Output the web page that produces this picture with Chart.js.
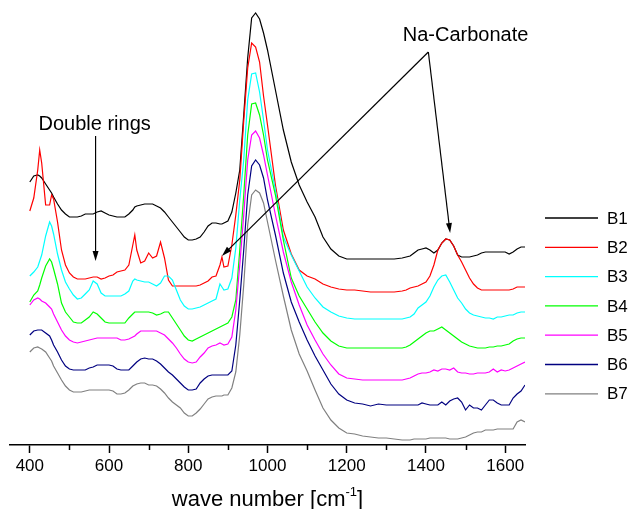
<!DOCTYPE html>
<html>
<head>
<meta charset="utf-8">
<title>IR spectra B1-B7</title>
<script src="https://cdn.jsdelivr.net/npm/chart.js@4.4.1/dist/chart.umd.min.js"></script>
<style>
  html, body { margin: 0; padding: 0; background: #fff; }
  #wrap { position: relative; width: 630px; height: 509px; }
</style>
</head>
<body>
<div id="wrap"><canvas id="spectra"></canvas></div>
<script>
// ----------------------------------------
// Spectra data (wave number in cm-1, offset absorbance in a.u.)
// ----------------------------------------
const waveNumbers = [
  400, 410, 420, 425, 430, 440, 450, 455, 460, 470,
  480, 490, 500, 510, 520, 530, 540, 550, 560, 570,
  580, 590, 600, 610, 620, 630, 640, 650, 660, 665,
  670, 680, 690, 700, 710, 720, 730, 740, 750, 760,
  770, 780, 790, 800, 810, 820, 830, 840, 850, 860,
  870, 880, 885, 890, 900, 910, 920, 930, 940, 950,
  960, 970, 980, 990, 1000, 1020, 1040, 1060, 1080, 1100,
  1120, 1140, 1160, 1180, 1200, 1220, 1240, 1260, 1280, 1300,
  1320, 1340, 1350, 1360, 1370, 1380, 1390, 1400, 1410, 1420,
  1430, 1440, 1450, 1460, 1470, 1480, 1490, 1500, 1510, 1520,
  1530, 1540, 1550, 1560, 1570, 1580, 1590, 1600, 1610, 1620,
  1630, 1640, 1650
];

const b1 = [
  263, 269, 270, 269, 267, 261, 255, 252, 248, 241,
  235, 231, 228, 228, 228, 229, 231, 231, 231, 233,
  234, 232, 230, 229, 228, 228, 228, 231, 235, 238,
  239, 240, 241, 241, 241, 239, 237, 233, 228, 223,
  218, 213, 208, 205, 205, 206, 208, 213, 219, 222,
  222, 221, 221, 222, 224, 233, 252, 275, 330, 387,
  427, 432, 426, 412, 395, 355, 315, 283, 260, 243,
  228, 208, 196, 189, 186, 186, 186, 186, 186, 186,
  186, 187, 188, 189, 192, 195, 196, 197, 195, 192,
  195, 202, 206, 205, 199, 190, 188, 188, 188, 189,
  190, 192, 193, 193, 193, 193, 193, 193, 191, 193,
  196, 198, 198
];
const b2 = [
  234, 247, 275, 295, 282, 240, 240, 250, 246, 223,
  195, 180, 172, 168, 166, 166, 166, 167, 168, 168,
  166, 167, 169, 170, 173, 174, 175, 180, 200, 210,
  195, 182, 184, 192, 187, 189, 203, 187, 165, 159,
  159, 159, 159, 159, 159, 159, 160, 162, 164, 168,
  169, 180, 188, 178, 179, 200, 230, 265, 324, 377,
  402, 398, 383, 349, 320, 260, 215, 191, 175, 169,
  166, 161, 158, 156, 155, 155, 154, 153, 153, 153,
  153, 154, 155, 157, 158, 159, 161, 163, 169, 180,
  195, 202, 206, 205, 199, 190, 183, 175, 167, 161,
  157, 155, 155, 155, 155, 155, 155, 155, 155, 156,
  158, 158, 158
];
const b3 = [
  169, 173, 178, 184, 190, 209, 223, 219, 211, 191,
  175, 163, 156, 150, 146, 147, 151, 155, 164, 161,
  152, 149, 149, 149, 149, 149, 151, 154, 164, 166,
  165, 164, 163, 163, 161, 159, 162, 169, 169, 165,
  155, 145, 139, 136, 136, 137, 138, 140, 142, 144,
  146, 161, 158, 155, 156, 167, 197, 245, 285, 345,
  371, 372, 353, 325, 295, 255, 208, 190, 174, 158,
  147, 138, 133, 129, 127, 126, 126, 126, 126, 126,
  126, 126, 127, 128, 131, 137, 140, 143, 149, 158,
  165, 169, 170, 163, 155, 147, 142, 136, 132, 130,
  129, 128, 127, 127, 126, 128, 128, 129, 130, 130,
  132, 133, 133
];
const b4 = [
  143, 150, 154, 160, 167, 179, 186, 183, 176, 161,
  142, 133, 128, 123, 122, 122, 125, 128, 133, 131,
  127, 123, 122, 122, 122, 122, 122, 127, 131, 133,
  133, 133, 133, 133, 132, 130, 131, 133, 133, 127,
  121, 115, 109, 105, 104, 106, 108, 110, 112, 114,
  116, 118, 119, 120, 122, 128, 145, 195, 250, 310,
  341, 342, 330, 310, 285, 250, 205, 167, 149, 136,
  123, 112, 104, 99, 97, 97, 97, 97, 97, 97,
  97, 97, 98, 100, 103, 106, 109, 112, 114, 114,
  116, 118, 115, 112, 109, 106, 103, 101, 99, 98,
  97, 97, 97, 98, 98, 99, 99, 100, 101, 104,
  106, 107, 107
];
const b5 = [
  140, 145, 147, 146, 144, 142, 138, 136, 131, 123,
  115, 109, 105, 103, 102, 103, 104, 105, 106, 107,
  107, 107, 107, 107, 107, 105, 105, 106, 108, 109,
  111, 114, 114, 114, 114, 114, 112, 110, 106, 102,
  97, 91, 86, 83, 82, 83, 88, 92, 97, 99,
  100, 102, 101, 100, 101, 108, 135, 180, 230, 285,
  310, 314, 307, 290, 270, 230, 193, 163, 140, 120,
  105, 91, 80, 71, 67, 66, 65, 65, 65, 65,
  65, 65, 66, 67, 69, 71, 72, 72, 73, 75,
  74, 76, 76, 75, 77, 73, 72, 72, 71, 71,
  72, 72, 72, 73, 76, 73, 75, 74, 75, 77,
  79, 81, 83
];
const b6 = [
  110, 114, 115, 115, 115, 112, 109, 105, 100, 93,
  85, 79, 76, 75, 75, 75, 75, 77, 78, 80,
  80, 80, 80, 79, 76, 75, 75, 75, 79, 81,
  83, 86, 87, 86, 86, 84, 81, 77, 73, 70,
  66, 62, 58, 55, 55, 56, 62, 66, 69, 70,
  70, 70, 70, 70, 70, 74, 100, 145, 195, 250,
  279, 285, 280, 267, 245, 210, 172, 143, 123, 105,
  89, 75, 61, 51, 45, 42, 41, 39, 41, 40,
  40, 40, 40, 40, 40, 40, 42, 41, 40, 40,
  40, 43, 40, 44, 46, 47, 43, 35, 40, 37,
  37, 35, 40, 45, 45, 42, 40, 40, 40, 47,
  51, 54, 60
];
const b7 = [
  93, 97, 98, 97, 96, 93, 87, 84, 79, 72,
  65, 59, 55, 53, 53, 53, 54, 55, 55, 55,
  55, 55, 55, 54, 51, 51, 52, 55, 59, 60,
  61, 62, 62, 60, 60, 59, 56, 52, 47, 43,
  40, 37, 32, 29, 29, 32, 36, 41, 46, 48,
  49, 49, 49, 50, 50, 57, 73, 110, 160, 220,
  250, 255, 252, 242, 223, 185, 149, 115, 91, 74,
  55, 37, 25, 17, 12, 11, 9, 8, 7, 7,
  6, 5, 5, 5, 6, 6, 6, 6, 7, 7,
  7, 7, 7, 6, 6, 6, 7, 8, 10, 12,
  13, 13, 15, 15, 15, 16, 16, 16, 16, 16,
  23, 25, 23
];

const sampleNames = ['B1', 'B2', 'B3', 'B4', 'B5', 'B6', 'B7'];
const sampleColors = ['#000000', '#ff0000', '#00ffff', '#00ff00', '#ff00ff', '#000080', '#808080'];
const sampleSeries = [b1, b2, b3, b4, b5, b6, b7];

const xTickValues = [400, 500, 600, 700, 800, 900, 1000, 1100, 1200, 1300, 1400, 1500, 1600];

const FONT = "'Liberation Sans', Arial, Helvetica, sans-serif";

// ----------------------------
// Helpers
// ----------------------------
function drawArrow(ctx, x0, y0, x1, y1) {
  const ang = Math.atan2(y1 - y0, x1 - x0);
  const len = 10, half = 3;
  const c = Math.cos(ang), s = Math.sin(ang);
  ctx.beginPath();
  ctx.moveTo(x0, y0);
  ctx.lineTo(x1 - c * len * 0.7, y1 - s * len * 0.7);
  ctx.stroke();
  ctx.beginPath();
  ctx.moveTo(x1, y1);
  ctx.lineTo(x1 - c * len - s * half, y1 - s * len + c * half);
  ctx.lineTo(x1 - c * len + s * half, y1 - s * len - c * half);
  ctx.closePath();
  ctx.fill();
}

// minor ticks, axis title, legend and band labels
const decorPlugin = {
  id: 'decor',
  afterDraw(chart) {
    const { ctx, chartArea, scales } = chart;
    const xs = scales.x, ys = scales.y;
    const px = v => xs.getPixelForValue(v);
    const py = v => ys.getPixelForValue(v);

    ctx.save();
    ctx.strokeStyle = '#000';
    ctx.fillStyle = '#000';

    // minor ticks (odd hundreds)
    ctx.lineWidth = 1.5;
    xTickValues.filter(v => v % 200 !== 0).forEach(v => {
      const x = Math.round(px(v)) + 0.5;
      ctx.beginPath();
      ctx.moveTo(x, chartArea.bottom);
      ctx.lineTo(x, chartArea.bottom + 5);
      ctx.stroke();
    });

    // axis title with superscript
    const cx = (chartArea.left + chartArea.right) / 2;
    const base = 506;
    const mainFont = '22px ' + FONT, supFont = '13px ' + FONT;
    ctx.font = mainFont;
    const w1 = ctx.measureText('wave number [cm').width;
    const w3 = ctx.measureText(']').width;
    ctx.font = supFont;
    const w2 = ctx.measureText('-1').width;
    let x = cx - (w1 + w2 + w3) / 2;
    ctx.textBaseline = 'alphabetic';
    ctx.textAlign = 'left';
    ctx.font = mainFont;
    ctx.fillText('wave number [cm', x, base);
    x += w1;
    ctx.font = supFont;
    ctx.fillText('-1', x, base - 10);
    x += w2;
    ctx.font = mainFont;
    ctx.fillText(']', x, base);

    // legend
    ctx.font = '17px ' + FONT;
    ctx.textBaseline = 'middle';
    chart.data.datasets.forEach((ds, i) => {
      const y = 218 + i * 29.3;
      ctx.strokeStyle = ds.borderColor;
      ctx.lineWidth = 1.3;
      ctx.beginPath();
      ctx.moveTo(545, y);
      ctx.lineTo(598, y);
      ctx.stroke();
      ctx.fillStyle = '#000';
      ctx.fillText(ds.label, 607, y + 1);
    });

    // band labels
    ctx.strokeStyle = '#000';
    ctx.fillStyle = '#000';
    ctx.lineWidth = 1.2;
    ctx.font = '20px ' + FONT;
    ctx.textBaseline = 'alphabetic';
    ctx.textAlign = 'left';
    ctx.fillText('Double rings', px(422), py(315));
    drawArrow(ctx, px(566), py(309), px(566), py(184));

    ctx.textAlign = 'center';
    ctx.fillText('Na-Carbonate', px(1500), py(404));
    drawArrow(ctx, px(1406), py(393), px(885), py(189));
    drawArrow(ctx, px(1406), py(393), px(1461), py(212));

    ctx.restore();
  }
};

// ----------------------------
// Chart
// ----------------------------
const datasets = sampleSeries.map((series, i) => ({
  label: sampleNames[i],
  data: series.map((v, j) => ({ x: waveNumbers[j], y: v })),
  borderColor: sampleColors[i],
  backgroundColor: sampleColors[i],
  borderWidth: 1.2,
  pointRadius: 0,
  tension: 0,
  fill: false,
  order: sampleSeries.length - i
}));

new Chart(document.getElementById('spectra'), {
  type: 'line',
  data: { datasets },
  options: {
    responsive: true,
    maintainAspectRatio: false,
    animation: false,
    layout: { padding: { left: 10, right: 105, top: 0, bottom: 0 } },
    plugins: {
      legend: { display: false },
      tooltip: { enabled: false }
    },
    scales: {
      x: {
        type: 'linear',
        min: 350,
        max: 1650,
        afterBuildTicks: s => { s.ticks = xTickValues.map(v => ({ value: v })); },
        afterFit: s => { s.height = 64; },
        ticks: {
          autoSkip: false,
          maxRotation: 0,
          padding: 3,
          color: '#000',
          font: { family: FONT, size: 17 },
          callback: v => (v % 200 === 0 ? String(v) : '')
        },
        grid: {
          drawOnChartArea: false,
          tickLength: 8,
          tickWidth: 1.5,
          tickColor: c => (c.tick && c.tick.value % 200 === 0 ? '#000' : 'rgba(0,0,0,0)')
        },
        border: { display: true, color: '#000', width: 1.5 }
      },
      y: {
        display: false,
        min: 0,
        max: 445
      }
    }
  },
  plugins: [decorPlugin]
});
</script>
</body>
</html>
